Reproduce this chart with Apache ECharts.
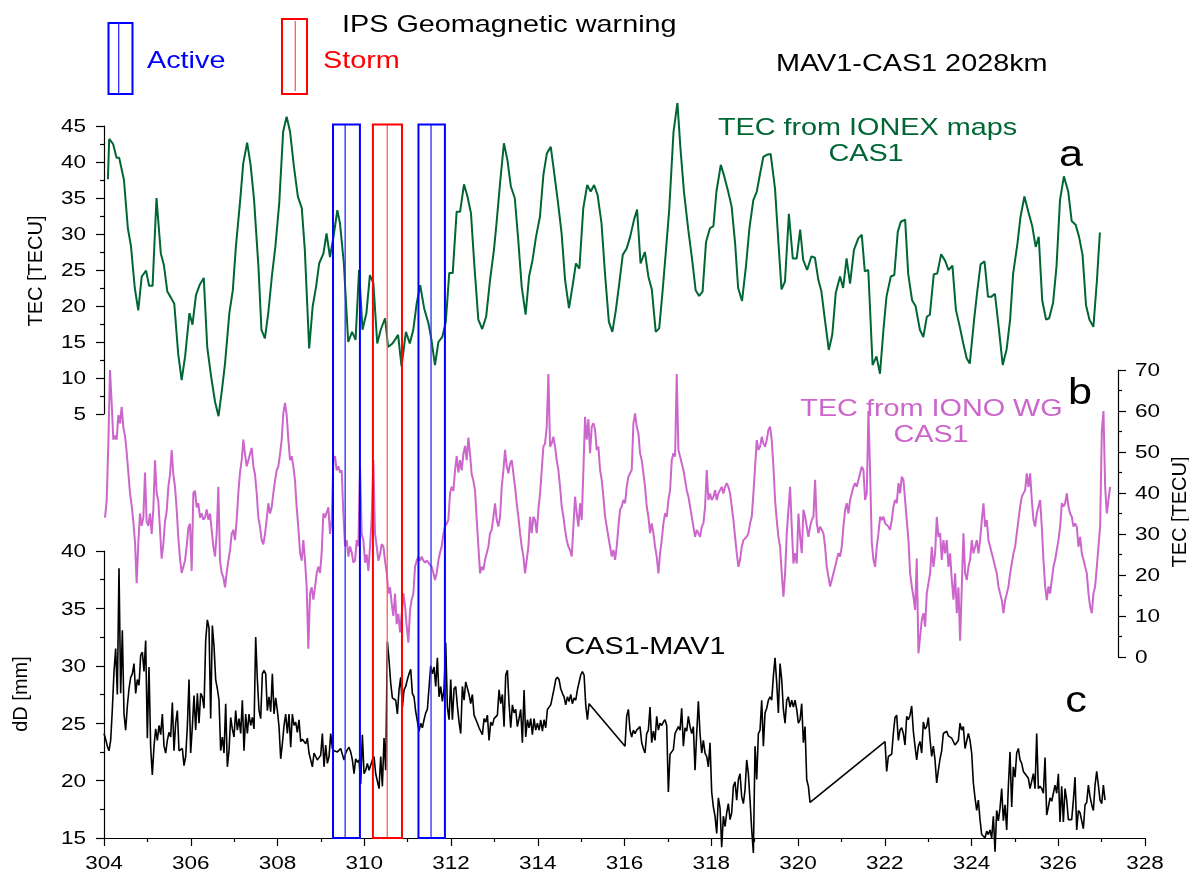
<!DOCTYPE html>
<html>
<head>
<meta charset="utf-8">
<script src="https://cdn.jsdelivr.net/npm/echarts@6/dist/echarts.min.js"></script>
<style>
  html, body { margin: 0; padding: 0; background: #ffffff; }
  #chart { width: 1189px; height: 875px; }
</style>
</head>
<body>
<div id="chart"></div>
<script>
// ---------------------------------------------------------------------------
// Data
// ---------------------------------------------------------------------------

// Day-of-year tick labels and value ticks of the three panels
const xTicks = [304, 306, 308, 310, 312, 314, 316, 318, 320, 322, 324, 326, 328];
const tecTicksA = [5, 10, 15, 20, 25, 30, 35, 40, 45];
const tecTicksB = [0, 10, 20, 30, 40, 50, 60, 70];
const dDTicks = [15, 20, 25, 30, 35, 40];

// Panel a: TEC from IONEX maps at CAS1, [day of year, TECU]
const ionexTec = [
  [304.09,37.6],[304.12,43.2],[304.21,42.5],[304.29,40.6],[304.35,40.6],[304.46,37.5],[304.55,30.8],[304.62,28.4],
  [304.71,22.5],[304.79,19.4],[304.87,24.1],[304.97,24.9],[305.04,22.8],[305.12,22.8],[305.21,35.0],[305.31,27.3],
  [305.38,25.7],[305.46,22.0],[305.54,21.2],[305.62,20.3],[305.71,13.4],[305.79,9.7],[305.87,13.0],[305.97,19.0],
  [306.04,17.4],[306.12,21.5],[306.21,23.0],[306.30,23.9],[306.38,14.3],[306.47,10.2],[306.56,6.7],[306.64,4.7],
  [306.71,7.9],[306.79,12.0],[306.89,19.0],[306.97,22.2],[307.04,28.2],[307.14,34.7],[307.21,39.8],[307.30,42.7],
  [307.38,39.6],[307.46,34.7],[307.56,25.5],[307.63,16.7],[307.71,15.5],[307.79,19.2],[307.87,24.1],[307.95,28.2],
  [308.04,34.3],[308.13,44.2],[308.21,46.3],[308.29,44.2],[308.38,39.3],[308.47,35.2],[308.56,33.6],[308.63,27.8],
  [308.73,14.1],[308.81,19.9],[308.89,22.7],[308.96,25.9],[309.06,27.3],[309.13,30.1],[309.21,26.8],[309.29,29.6],
  [309.38,33.3],[309.44,31.5],[309.53,25.9],[309.63,15.0],[309.72,16.4],[309.80,15.3],[309.88,25.0],[309.96,16.7],
  [310.05,19.0],[310.13,24.3],[310.21,23.2],[310.30,14.8],[310.38,16.7],[310.48,18.3],[310.55,14.3],[310.65,14.8],
  [310.72,15.4],[310.78,16.0],[310.86,11.6],[310.96,16.4],[311.05,14.8],[311.13,16.7],[311.21,20.4],[311.29,22.9],
  [311.38,19.7],[311.48,17.6],[311.55,15.3],[311.63,11.8],[311.71,15.0],[311.80,15.7],[311.88,17.8],[311.96,24.6],
  [312.04,24.6],[312.13,33.1],[312.21,33.1],[312.30,36.9],[312.38,35.2],[312.46,32.9],[312.54,25.5],[312.63,18.1],
  [312.72,16.8],[312.81,18.5],[312.90,23.6],[312.99,27.8],[313.05,31.5],[313.13,37.0],[313.22,42.6],[313.30,40.3],
  [313.38,36.6],[313.47,35.0],[313.55,29.2],[313.63,22.7],[313.72,18.8],[313.80,24.1],[313.88,26.4],[313.96,29.6],
  [314.05,32.4],[314.13,38.2],[314.21,41.2],[314.30,42.1],[314.37,38.9],[314.46,34.7],[314.55,30.1],[314.63,23.6],
  [314.72,19.7],[314.80,22.7],[314.88,25.9],[314.96,25.2],[315.05,33.6],[315.14,36.8],[315.22,35.9],[315.30,36.8],
  [315.38,35.4],[315.47,31.5],[315.55,24.5],[315.64,17.8],[315.72,16.4],[315.80,19.4],[315.87,22.7],[315.96,27.1],
  [316.05,28.0],[316.13,29.6],[316.22,32.0],[316.29,33.4],[316.37,25.9],[316.47,27.5],[316.55,24.1],[316.63,22.3],
  [316.72,16.4],[316.80,16.9],[316.88,22.2],[316.95,27.3],[317.03,33.3],[317.13,44.2],[317.22,48.2],[317.29,41.9],
  [317.37,35.9],[317.47,30.6],[317.56,26.4],[317.64,22.2],[317.72,21.4],[317.80,22.0],[317.88,28.9],[317.97,30.8],
  [318.05,31.1],[318.12,35.9],[318.22,39.6],[318.30,38.0],[318.39,35.9],[318.47,33.8],[318.55,28.7],[318.62,22.5],
  [318.71,20.7],[318.80,25.5],[318.88,30.8],[318.97,34.7],[319.05,35.9],[319.12,38.2],[319.20,40.7],[319.28,41.0],
  [319.37,41.1],[319.47,36.3],[319.55,28.7],[319.62,22.3],[319.70,23.4],[319.79,32.8],[319.88,26.6],[319.97,26.6],
  [320.05,30.6],[320.12,26.4],[320.21,25.0],[320.31,26.9],[320.39,26.7],[320.47,23.6],[320.54,22.0],[320.62,18.1],
  [320.71,13.9],[320.79,16.0],[320.87,21.8],[320.97,24.1],[321.04,22.5],[321.12,26.6],[321.20,23.1],[321.29,27.8],
  [321.39,29.4],[321.47,29.9],[321.54,24.8],[321.62,25.0],[321.72,11.8],[321.81,13.0],[321.89,10.6],[321.97,16.7],
  [322.04,21.3],[322.14,24.1],[322.22,24.3],[322.30,30.3],[322.37,31.7],[322.47,32.0],[322.54,24.5],[322.63,20.8],
  [322.71,20.0],[322.81,16.7],[322.89,15.7],[322.97,18.5],[323.04,18.8],[323.13,24.4],[323.21,24.5],[323.30,27.2],
  [323.39,26.3],[323.47,25.0],[323.56,25.6],[323.64,19.5],[323.73,17.1],[323.81,14.8],[323.89,12.7],[323.96,12.0],
  [324.06,18.1],[324.13,21.9],[324.21,25.8],[324.30,26.2],[324.38,21.3],[324.46,21.3],[324.54,21.7],[324.63,16.9],
  [324.72,11.8],[324.81,14.0],[324.89,18.1],[324.96,24.5],[325.06,28.7],[325.13,32.4],[325.22,35.2],[325.31,33.1],
  [325.40,31.1],[325.48,28.2],[325.55,29.6],[325.63,20.8],[325.72,18.1],[325.79,18.3],[325.88,20.4],[325.96,25.5],
  [326.04,34.7],[326.13,38.0],[326.23,35.9],[326.31,31.8],[326.40,31.3],[326.48,29.6],[326.56,27.1],[326.64,20.1],
  [326.72,18.1],[326.81,17.1],[326.89,23.4],[326.96,30.2]
];

// Panel b: TEC from IONO WG at CAS1, regularly sampled (TECU)
const IONO_START = 304.023;
const IONO_STEP = 0.03843;
const ionoTec = [
  34,38,52,70,62,53,54,53,59,57,61,56,54,50,45,40,37,33,28,18,
  28,35,32,34,45,33,32,35,30,36,48,40,38,31,24,27.5,33,35.5,41.5,44.5,
  50.5,44.5,41.5,36,29,24,20.5,22,23.5,27,31.5,32.5,21,40,40.5,36.5,37.5,34,35,33.5,
  34,36,33.5,35,31,27,24.5,30,41.5,23.5,20.5,19.5,17,20.5,23.5,26,30,31,28.5,33.5,
  40,45,48,53,49.5,46.5,48,49.5,51,46.5,44.5,40,34,31.8,28.5,27.5,30,33.5,37.5,35,
  36.5,40,43,45.5,46.5,49.5,53,59.5,62,59,53,48,49,46.5,43,36.5,31.5,25.5,23.5,28.5,
  23.5,17,2,15.5,17,14,17,20.5,22,20.5,25.5,35,34,34,36.5,30,33.5,48,49,45.5,
  46.5,45,45.5,35,27,28.5,24.5,27,25.5,23,23.5,28.5,27,46.5,30,28.5,23,25,21,27,
  34,48,30,27,23.5,25,27.5,27,23.5,20.5,15.5,17,13,10,15.5,8,10.5,6,10.5,15.5,
  12.5,7.5,3.5,11.5,14,15.5,22,23.5,24.5,23.5,24.5,23.5,23,23.5,23.5,22.5,22,20.5,18.8,20.5,
  23.5,25.5,27,30,32,32.5,33.5,40,41.5,40.5,45.5,49,45,48,45.5,49.5,51.5,48,53.5,49.5,
  44.5,43,40.5,33.5,27,20.4,22,21.2,23.7,25.3,26.9,30.2,31,34.2,37.5,33.4,31.8,34.2,
  41.5,45.5,50.5,46.5,44.8,47.2,48,44.8,41.5,37.5,34.2,30.2,26.9,24.5,20.4,23.7,26.9,34.2,30.2,34.2,
  33.4,30.2,35.9,39.9,45.6,51.3,52.1,56.2,69,51.3,52.1,53.7,51.3,48,45.6,41.5,36.7,34.2,31,28.5,
  26.9,26.1,24.5,31.8,39.1,35,31.8,37.5,33.4,45.6,58.6,53,58,49.7,56.2,57,55.4,50.5,51.3,45.6,
  43.2,39.1,34.2,31.8,29.3,26.9,24.5,26.1,23.7,26.9,31.8,35.9,36.7,38.3,37.5,41.5,44,44.8,45.6,57,
  59.4,56.2,54.6,49.7,48,44.8,41.5,36.7,34.2,30.2,32.6,30.2,26.9,24.5,20.4,25.3,28.5,32.6,35,34.2,
  38.3,40.7,48,49.7,48.9,69,50.5,48.9,48.9,45.6,43.2,40.7,39.1,36.7,34.2,31.8,29.3,31,30.2,29.3,
  31.8,32.6,36.7,45.6,38.3,39.9,38.3,39.1,40.7,38.3,39.9,39.9,41.5,39.9,41.5,42.4,41.5,39.9,36.7,33.4,
  29.3,25.3,22,23.7,26.9,28.5,28.5,29.3,30.2,32.6,34.2,39.9,46.4,52.9,50.5,51.3,53.7,52.1,51.3,52.9,
  55.4,56.2,52.9,46.4,38.3,33.4,29.3,26.9,20.4,14.7,20.4,30.2,30.2,41.5,31.8,22.8,25.3,22.8,35,29.3,
  25.3,35.9,34.2,31.8,29.3,31.8,33.4,34.2,43.2,32.6,30.2,31.8,31.8,30.2,26.9,22,19.6,17.2,18.8,20.4,
  22,23.7,25.3,24.5,26.9,31.8,35.9,37.5,35,38.3,38.3,41.5,42.4,41.5,43.2,44.8,46.4,45.6,38.3,40,
  60,45,28,23.7,22,26.9,30.2,
  34.2,33.4,34.2,32.6,32.6,31.8,31,33.4,36.7,38.3,37.5,42.4,39.9,44,43.2,38.3,33.4,28.5,20.4,17.2,
  14.7,11.5,24,0.9,5,9,10.7,7.4,15.5,18,20.4,26.9,22,25.3,34.2,29.3,30.2,23.7,28.5,25.3,
  28.5,22,25.3,18.8,14,20.4,10.7,17,4,17,30.2,20.4,18.8,22,23.7,28.5,25.3,26.9,28.5,25.3,
  28.5,33.4,37.5,31.8,33.4,28.5,26.9,25.3,23.7,22,20.4,17.2,15.5,13.9,10.7,13.9,15.5,17.2,20.4,20.4,
  25.3,26.9,30.2,33.4,36.7,39.1,39.9,40.7,44.8,41.5,44.8,38.3,33.4,31.8,35,36.7,38.3,31.8,23.7,17.2,
  13.9,17.2,15.5,18.8,22,23.7,26.1,28.5,31.8,37.5,36.7,37.5,39.9,36.7,35,34.2,31.8,32.6,31.8,26.9,
  29.3,25.3,23.7,22,20.4,15.5,12.3,10.7,15.5,17.2,22,26.9,31.8,55,60,41.5,35,38.3,41.5
];

// Panel c: CAS1-MAV1 baseline variation dD (mm), three recorded stretches
const DD_STEP = 0.03843;
const dDStarts = [304.0, 316.012, 322.006];
const dDPart1 = [
  24.1,23.6,23.0,22.6,23.5,26.2,29.5,31.5,27.5,38.5,27.6,33.1,25.8,24.4,26.5,28.0,29.0,29.3,30.2,27.6,
  28.8,28.3,30.9,31.2,29.5,32.2,23.7,29.9,22.9,20.5,23.0,24.5,23.5,24.8,24.0,25.8,23.0,22.4,23.5,24.2,
  23.8,26.8,22.6,25.0,26.1,22.6,22.7,22.8,21.3,22.1,24.7,28.8,22.4,24.7,27.4,24.4,27.6,25.0,27.6,27.3,
  26.3,32.2,34.0,33.3,25.4,33.5,31.7,28.8,28.0,27.0,22.6,23.8,22.4,26.7,21.2,22.6,25.5,24.5,23.8,26.1,
  24.4,25.4,24.1,27.0,22.6,25.8,24.1,25.8,24.8,25.5,24.5,32.5,28.8,26.1,25.4,29.3,29.6,29.3,26.1,27.3,
  26.0,29.3,25.8,27.2,26.1,24.7,21.9,23.2,24.8,25.8,24.1,25.8,22.9,25.8,24.8,25.1,24.2,25.3,23.4,23.6,
  23.4,23.2,23.7,22.4,22.5,21.2,22.4,22.1,21.8,22.0,22.2,24.1,21.2,23.1,21.5,22.1,24.1,22.8,22.6,22.6,
  22.5,22.6,22.8,22.3,21.8,22.4,22.7,22.9,22.5,21.8,20.6,21.9,21.6,21.8,19.7,24.0,20.6,20.9,21.5,20.9,
  20.9,21.8,22.1,20.6,20.5,19.3,22.1,19.5,23.7,20.9,32.1,30.5,28.5,27.2,27.1,27.0,25.8,27.9,29.0,26.4,
  27.9,28.2,28.8,29.3,29.7,27.6,27.3,26.0,
  25.9,24.3,25.0,24.6,25.3,25.9,26.2,26.3,30.0,29.3,29.9,28.2,30.7,27.3,28.2,26.9,28.0,32.0,26.4,25.3,
  28.8,25.3,28.0,28.2,26.5,25.1,24.1,28.2,27.0,28.6,28.6,27.5,26.7,27.5,25.7,25.6,25.0,24.6,24.3,24.0,
  25.4,25.1,25.7,23.5,25.1,24.8,25.4,25.4,25.7,27.9,26.7,27.5,24.7,29.2,29.6,26.7,24.6,26.6,25.9,26.2,
  24.7,25.4,26.2,23.3,27.9,23.8,25.3,24.6,25.4,24.0,25.4,24.4,25.0,24.4,25.3,24.3,25.3,24.6,26.2,26.4,
  26.6,27.3,28.0,28.8,29.0,28.8,28.0,27.6,27.3,26.6,27.3,26.9,27.5,26.7,27.2,27.0,27.9,27.9,29.2,29.5,
  29.2,26.6,25.3,26.7
];
const dDPart2 = [
  23.0,25.6,26.2,24.4,23.8,24.4,24.1,24.4,24.3,24.7,23.3,22.8,22.4,24.1,24.4,26.4,23.3,24.3,23.5,25.6,
  24.4,25.0,24.8,25.1,25.3,24.8,19.0,22.3,22.5,22.7,24.1,24.4,24.7,24.4,26.3,23.0,24.6,24.3,25.6,24.7,
  24.1,24.7,20.9,24.1,26.9,24.1,22.4,23.5,22.4,22.1,21.2,23.3,19.0,17.7,16.9,15.4,18.5,17.6,14.2,16.9,
  16.0,17.2,18.0,16.6,17.2,19.5,19.9,18.3,20.1,20.6,18.6,18.0,19.2,21.8,20.6,18.3,15.7,13.7,23.0,20.1,
  24.1,24.4,27.0,23.0,25.9,26.3,27.0,27.3,27.0,29.1,30.7,28.5,25.9,30.2,28.8,26.2,25.0,27.0,27.3,26.4,
  27.0,26.4,27.0,26.2,25.0,25.3,26.7,23.3,24.7,20.1,19.5,18.1
];
const dDPart3 = [
  23.4,20.8,22.1,22.2,22.3,24.1,25.5,25.7,23.5,24.4,24.6,24.1,23.1,25.6,25.3,25.7,26.5,24.3,23.0,21.8,
  23.0,23.4,22.4,25.1,24.5,24.7,25.5,23.6,22.1,23.0,21.8,19.8,20.9,21.9,22.6,24.1,24.1,24.3,23.9,23.8,
  23.7,23.7,23.1,23.3,23.5,25.0,24.4,24.7,22.8,22.7,24.1,23.5,22.4,19.8,18.5,17.4,18.3,16.6,15.3,15.3,
  15.0,15.6,15.3,15.7,15.0,16.9,13.8,17.4,16.5,17.6,19.3,16.5,17.9,15.7,19.5,22.5,17.7,21.2,20.3,22.4,
  22.8,21.8,21.5,20.8,20.6,20.6,20.2,19.3,19.3,20.6,19.3,24.1,19.3,19.5,19.3,18.9,22.0,17.0,17.7,18.5,
  18.2,18.9,19.6,18.9,20.6,16.4,19.5,16.4,19.3,18.3,16.6,16.6,16.6,18.3,20.3,15.7,17.4,17.2,17.2,15.8,
  17.9,18.1,19.6,18.6,17.9,17.4,19.6,20.8,19.6,18.3,18.0,19.6,18.3
];

// IPS geomagnetic warnings: [start day, centre day, end day]
const activeWindows = [[309.28, 309.56, 309.90], [311.25, 311.54, 311.86]];
const stormWindows = [[310.20, 310.53, 310.87]];

// ---------------------------------------------------------------------------
// Styling
// ---------------------------------------------------------------------------
const FONT = '"Liberation Sans", Arial, Helvetica, sans-serif';
const GREEN = '#006633';
const VIOLET = '#cc66cc';
const BLUE = '#0000ff';
const BLUE_INNER = '#2a2aff';
const RED = '#ff0000';
const RED_INNER = '#ff5a5a';
const TEXT_SX = 1.2;      // lettering is drawn horizontally widened
const TICK_SX = 1.25;
const B_AXIS_OFFSET = -27;

const PLOT = { left: 104, width: 1041 };
const axisStroke = { color: '#000', width: 1.2 };

function valueYAxis(gridIndex, min, max, interval, extra) {
  return Object.assign({
    gridIndex, type: 'value', min, max, interval,
    axisLine: { show: true, onZero: false, lineStyle: axisStroke },
    axisTick: { show: true, length: 8, lineStyle: axisStroke },
    minorTick: { show: true, splitNumber: 2, length: 4, lineStyle: axisStroke },
    axisLabel: { show: false },
    splitLine: { show: false },
    minorSplitLine: { show: false }
  }, extra || {});
}

function hiddenXAxis(gridIndex) {
  return { gridIndex, type: 'value', min: 304, max: 328, show: false };
}

function windowBox(stroke, inner) {
  return function (params, api) {
    const tl = api.coord([api.value(0), 1]);
    const mid = api.coord([api.value(1), 1]);
    const br = api.coord([api.value(2), 0]);
    return {
      type: 'group',
      children: [
        { type: 'line', shape: { x1: mid[0], y1: tl[1], x2: mid[0], y2: br[1] },
          style: { stroke: inner, lineWidth: 1.3 } },
        { type: 'rect', shape: { x: tl[0], y: tl[1], width: br[0] - tl[0], height: br[1] - tl[1] },
          style: { fill: 'none', stroke: stroke, lineWidth: 2 } }
      ]
    };
  };
}

const ionoData = ionoTec.map((v, i) => [IONO_START + i * IONO_STEP, v]);
const dDData = [dDPart1, dDPart2, dDPart3].flatMap(
  (part, k) => part.map((v, i) => [dDStarts[k] + i * DD_STEP, v]));

const option = {
  animation: false,
  backgroundColor: '#ffffff',
  grid: [
    { left: PLOT.left, width: PLOT.width, top: 126, height: 288 },
    { left: PLOT.left, width: PLOT.width, top: 370, height: 287 },
    { left: PLOT.left, width: PLOT.width, top: 551, height: 287 },
    { left: PLOT.left, width: PLOT.width, top: 124.5, height: 713.5 }
  ],
  xAxis: [
    hiddenXAxis(0),
    hiddenXAxis(1),
    {
      gridIndex: 2, type: 'value', min: 304, max: 328, interval: 2,
      axisLine: { show: true, onZero: false, lineStyle: axisStroke },
      axisTick: { show: true, length: 8, lineStyle: axisStroke },
      minorTick: { show: true, splitNumber: 2, length: 4, lineStyle: axisStroke },
      axisLabel: { show: false },
      splitLine: { show: false }
    },
    hiddenXAxis(3)
  ],
  yAxis: [
    valueYAxis(0, 5, 45, 5, { position: 'left' }),
    valueYAxis(1, 0, 70, 10, { position: 'right', offset: B_AXIS_OFFSET }),
    valueYAxis(2, 15, 40, 5, { position: 'left' }),
    { gridIndex: 3, type: 'value', min: 0, max: 1, show: false }
  ],
  series: [
    {
      name: 'TEC from IONO WG', type: 'line', xAxisIndex: 1, yAxisIndex: 1,
      data: ionoData, showSymbol: false, clip: false,
      lineStyle: { color: VIOLET, width: 2 }, z: 2
    },
    {
      name: 'TEC from IONEX maps', type: 'line', xAxisIndex: 0, yAxisIndex: 0,
      data: ionexTec, showSymbol: false, clip: false,
      lineStyle: { color: GREEN, width: 2 }, z: 3
    },
    {
      name: 'CAS1-MAV1', type: 'line', xAxisIndex: 2, yAxisIndex: 2,
      data: dDData, showSymbol: false, clip: false,
      lineStyle: { color: '#000000', width: 1.6 }, z: 3
    },
    {
      name: 'Active', type: 'custom', xAxisIndex: 3, yAxisIndex: 3,
      data: activeWindows, renderItem: windowBox(BLUE, BLUE_INNER), z: 5
    },
    {
      name: 'Storm', type: 'custom', xAxisIndex: 3, yAxisIndex: 3,
      data: stormWindows, renderItem: windowBox(RED, RED_INNER), z: 5
    }
  ]
};

const chart = echarts.init(document.getElementById('chart'));
chart.setOption(option);

// ---------------------------------------------------------------------------
// Lettering: tick labels placed on the axes' own scales, plus annotations
// ---------------------------------------------------------------------------
function label(text, x, y, opts) {
  const o = opts || {};
  const align = o.align || 'left';
  return {
    type: 'text', x: x, y: y, silent: true,
    scaleX: o.sx === undefined ? TEXT_SX : o.sx,
    rotation: o.rotation || 0,
    z: 10,
    style: {
      text: text,
      font: (o.size || 24) + 'px ' + FONT,
      fill: o.color || '#000000',
      align: align, textAlign: align,
      verticalAlign: 'middle', textVerticalAlign: 'middle'
    }
  };
}

const g = [];

xTicks.forEach(v => {
  const p = chart.convertToPixel({ gridIndex: 2 }, [v, 15]);
  g.push(label(String(v), p[0], p[1] + 26, { size: 18, sx: TICK_SX, align: 'center' }));
});
tecTicksA.forEach(v => {
  const p = chart.convertToPixel({ gridIndex: 0 }, [304, v]);
  g.push(label(String(v), p[0] - 18, p[1] + 1.5, { size: 18, sx: TICK_SX, align: 'right' }));
});
dDTicks.forEach(v => {
  const p = chart.convertToPixel({ gridIndex: 2 }, [304, v]);
  g.push(label(String(v), p[0] - 18, p[1] + 1.5, { size: 18, sx: TICK_SX, align: 'right' }));
});
tecTicksB.forEach(v => {
  const p = chart.convertToPixel({ gridIndex: 1 }, [328, v]);
  g.push(label(String(v), p[0] + B_AXIS_OFFSET + 17, p[1] + 1.5, { size: 18, sx: TICK_SX, align: 'left' }));
});

// Axis titles
g.push(label('TEC [TECU]', 36, 271, { size: 20, sx: 1, align: 'center', rotation: Math.PI / 2 }));
g.push(label('dD [mm]', 21, 694, { size: 20, sx: 1, align: 'center', rotation: Math.PI / 2 }));
g.push(label('TEC [TECU]', 1180, 512, { size: 20, sx: 1, align: 'center', rotation: Math.PI / 2 }));

// Warning legend
g.push({ type: 'rect', silent: true, z: 10, shape: { x: 108.5, y: 23, width: 24, height: 71 },
  style: { fill: 'none', stroke: BLUE, lineWidth: 2 } });
g.push({ type: 'line', silent: true, z: 10, shape: { x1: 118.7, y1: 23, x2: 118.7, y2: 94 },
  style: { stroke: BLUE_INNER, lineWidth: 1.3 } });
g.push({ type: 'rect', silent: true, z: 10, shape: { x: 282, y: 19, width: 25, height: 75 },
  style: { fill: 'none', stroke: RED, lineWidth: 2 } });
g.push({ type: 'line', silent: true, z: 10, shape: { x1: 295.3, y1: 21, x2: 295.3, y2: 91 },
  style: { stroke: RED_INNER, lineWidth: 1.3 } });
g.push(label('IPS Geomagnetic warning', 342, 25));
g.push(label('Active', 147, 61.5, { color: BLUE }));
g.push(label('Storm', 323, 61.5, { color: RED }));
g.push(label('MAV1-CAS1 2028km', 776, 64.5));

// Panel annotations
g.push(label('TEC from IONEX maps', 867.5, 128, { color: GREEN, align: 'center' }));
g.push(label('CAS1', 866, 154.5, { color: GREEN, align: 'center' }));
g.push(label('a', 1071, 156, { size: 36, align: 'center' }));
g.push(label('TEC from IONO WG', 931.5, 409, { color: VIOLET, align: 'center' }));
g.push(label('CAS1', 931, 435, { color: VIOLET, align: 'center' }));
g.push(label('b', 1080, 394, { size: 36, align: 'center' }));
g.push(label('CAS1-MAV1', 645, 647.5, { align: 'center' }));
g.push(label('c', 1076, 702, { size: 36, align: 'center' }));

chart.setOption({ graphic: { elements: g } });
</script>
</body>
</html>
